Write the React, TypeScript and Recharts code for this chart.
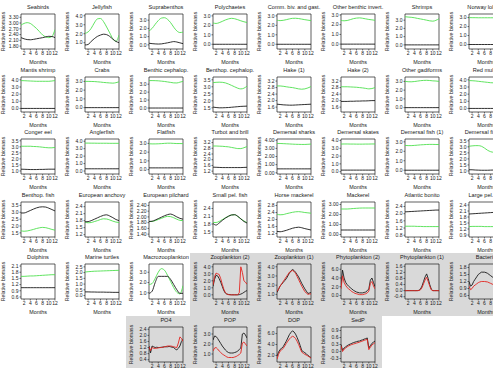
import React from 'react';
import { LineChart, Line, XAxis, YAxis, ReferenceArea } from 'recharts';

const months = [1, 2, 3, 4, 5, 6, 7, 8, 9, 10, 11, 12];
const halfMonths = [1, 1.5, 2, 2.5, 3, 3.5, 4, 4.5, 5, 5.5, 6, 6.5, 7, 7.5, 8, 8.5, 9, 9.5, 10, 10.5, 11, 11.5, 12];
const monthTicks = [2, 4, 6, 8, 10, 12];

const zeros = [0, 0, 0, 0, 0, 0, 0, 0, 0, 0, 0, 0];

// row 1
const seabirdsK = [2.24, 2.18, 2.14, 2.13, 2.15, 2.18, 2.21, 2.24, 2.28, 2.31, 2.3, 2.24];
const seabirdsG = [2.89, 2.98, 3.02, 2.98, 2.86, 2.72, 2.55, 2.38, 2.28, 2.24, 2.3, 2.66];
const jellyK = [0.75, 0.8, 1.15, 1.45, 1.7, 1.85, 1.95, 1.9, 1.7, 1.4, 1.15, 1.0];
const jellyG = [2.05, 2.2, 2.6, 3.2, 3.65, 3.7, 3.35, 2.75, 2.1, 1.45, 1.15, 1.85];
const supraK = [0.2, 0.15, 0.12, 0.1, 0.12, 0.18, 0.25, 0.33, 0.4, 0.35, 0.25, 0.15];
const supraG = [1.7, 2.0, 2.5, 2.95, 3.25, 3.3, 3.1, 2.7, 2.15, 1.7, 1.5, 1.55];
const polyG = [2.25, 2.2, 2.28, 2.42, 2.57, 2.68, 2.74, 2.7, 2.6, 2.48, 2.38, 2.3];
const combivG = [2.55, 2.5, 2.53, 2.6, 2.68, 2.74, 2.75, 2.72, 2.66, 2.6, 2.55, 2.5];
const othbenG = [2.45, 2.4, 2.43, 2.52, 2.62, 2.68, 2.7, 2.66, 2.6, 2.54, 2.5, 2.45];
const shrimpG = [3.42, 3.38, 3.35, 3.3, 3.22, 3.15, 3.08, 3.0, 2.92, 2.88, 2.98, 3.18];
const lobsterG = [3.0, 2.99, 2.99, 2.98, 2.98, 2.98, 2.98, 2.98, 2.98, 2.98, 2.99, 3.0];

// row 2
const mantisG = [3.9, 3.88, 3.86, 3.84, 3.82, 3.8, 3.8, 3.8, 3.8, 3.8, 3.84, 3.9];
const crabsG = [3.0, 3.0, 2.99, 2.98, 2.95, 2.92, 2.88, 2.85, 2.82, 2.8, 2.85, 2.95];
const bcephG = [3.45, 3.45, 3.44, 3.42, 3.38, 3.34, 3.28, 3.22, 3.16, 3.15, 3.25, 3.35];
const bpcephK = [1.55, 1.52, 1.5, 1.5, 1.51, 1.52, 1.54, 1.56, 1.58, 1.6, 1.61, 1.62];
const bpcephG = [3.3, 3.32, 3.33, 3.32, 3.28, 3.2, 3.1, 3.0, 2.9, 2.85, 2.9, 3.05];
const hake1K = [1.78, 1.76, 1.74, 1.73, 1.72, 1.72, 1.73, 1.74, 1.75, 1.76, 1.77, 1.78];
const hake1G = [2.9, 2.9, 2.88, 2.85, 2.82, 2.8, 2.76, 2.72, 2.7, 2.72, 2.78, 2.86];
const hake2K = [1.95, 1.95, 1.95, 1.96, 1.96, 1.97, 1.97, 1.98, 1.98, 1.99, 2.0, 2.0];
const hake2G = [2.85, 2.85, 2.85, 2.84, 2.83, 2.82, 2.8, 2.78, 2.75, 2.72, 2.74, 2.8];
const gadiG = [3.0, 2.96, 2.95, 2.98, 3.03, 3.08, 3.11, 3.12, 3.1, 3.06, 3.04, 3.0];
const mulletG = [3.9, 3.88, 3.85, 3.8, 3.75, 3.7, 3.65, 3.6, 3.58, 3.55, 3.55, 3.58];

// row 3
const congerK = [1.15, 1.14, 1.13, 1.12, 1.12, 1.12, 1.13, 1.13, 1.14, 1.15, 1.15, 1.15];
const congerG = [3.05, 3.05, 3.05, 3.05, 3.03, 3.02, 3.0, 2.97, 2.94, 2.92, 2.92, 2.95];
const anglerK = [0.3, 0.3, 0.3, 0.3, 0.3, 0.3, 0.3, 0.3, 0.3, 0.3, 0.3, 0.3];
const anglerG = [3.75, 3.75, 3.74, 3.74, 3.73, 3.73, 3.73, 3.73, 3.72, 3.72, 3.72, 3.72];
const flatK = [0.2, 0.2, 0.2, 0.2, 0.2, 0.2, 0.2, 0.2, 0.2, 0.2, 0.2, 0.2];
const flatG = [2.95, 2.94, 2.94, 2.95, 2.97, 3.0, 3.02, 3.02, 3.0, 2.98, 2.98, 2.97];
const turbotK = [1.48, 1.47, 1.46, 1.45, 1.45, 1.45, 1.45, 1.45, 1.45, 1.45, 1.46, 1.47];
const turbotG = [2.96, 2.96, 2.95, 2.94, 2.92, 2.9, 2.86, 2.82, 2.78, 2.78, 2.84, 2.92];
const dsharkK = [0.48, 0.48, 0.48, 0.48, 0.48, 0.48, 0.48, 0.48, 0.48, 0.48, 0.48, 0.48];
const dsharkG = [3.6, 3.6, 3.58, 3.56, 3.54, 3.52, 3.5, 3.49, 3.48, 3.48, 3.5, 3.53];
const dskateK = [0.2, 0.2, 0.2, 0.2, 0.2, 0.2, 0.2, 0.2, 0.2, 0.2, 0.2, 0.2];
const dskateG = [3.55, 3.56, 3.56, 3.55, 3.55, 3.54, 3.54, 3.54, 3.55, 3.55, 3.56, 3.56];
const dfish1G = [2.62, 2.6, 2.6, 2.62, 2.65, 2.68, 2.7, 2.72, 2.73, 2.73, 2.72, 2.72];
const dfish2K = [1.1, 1.1, 1.08, 1.07, 1.06, 1.06, 1.06, 1.07, 1.08, 1.09, 1.1, 1.1];
const dfish2G = [3.05, 3.08, 3.1, 3.1, 3.05, 2.9, 2.72, 2.6, 2.55, 2.55, 2.6, 2.65];

// row 4
const bpfishK = [2.95, 2.95, 3.03, 3.13, 3.23, 3.32, 3.38, 3.4, 3.38, 3.3, 3.2, 3.1];
const bpfishG = [1.65, 1.62, 1.64, 1.69, 1.75, 1.82, 1.87, 1.9, 1.88, 1.82, 1.75, 1.7];
const anchovyK = [1.75, 1.76, 1.8, 1.86, 1.92, 1.98, 2.03, 2.05, 2.0, 1.93, 1.85, 1.8];
const anchovyG = [1.74, 1.71, 1.72, 1.76, 1.8, 1.85, 1.88, 1.87, 1.83, 1.78, 1.74, 1.72];
const pilchardK = [1.84, 1.85, 1.89, 1.94, 1.99, 2.04, 2.08, 2.1, 2.06, 2.0, 1.95, 1.92];
const pilchardG = [1.84, 1.84, 1.87, 1.91, 1.95, 1.99, 2.02, 2.01, 1.97, 1.92, 1.88, 1.87];
const smallpelK = [1.82, 1.76, 1.84, 1.94, 2.03, 2.1, 2.15, 2.16, 2.1, 2.0, 1.9, 1.84];
const smallpelG = [1.86, 1.86, 1.9, 1.97, 2.04, 2.1, 2.15, 2.16, 2.09, 2.0, 1.92, 1.85];
const horseK = [1.32, 1.3, 1.33, 1.38, 1.44, 1.5, 1.54, 1.56, 1.53, 1.48, 1.44, 1.4];
const horseG = [2.3, 2.27, 2.28, 2.33, 2.37, 2.41, 2.44, 2.45, 2.43, 2.4, 2.38, 2.36];
const mackerelK = [0.45, 0.45, 0.45, 0.45, 0.45, 0.45, 0.45, 0.45, 0.45, 0.45, 0.45, 0.45];
const mackerelG = [2.55, 2.55, 2.55, 2.57, 2.6, 2.62, 2.64, 2.65, 2.65, 2.65, 2.65, 2.65];
const bonitoK = [2.1, 2.11, 2.12, 2.13, 2.14, 2.15, 2.16, 2.17, 2.18, 2.19, 2.2, 2.2];
const bonitoG = [1.3, 1.3, 1.3, 1.3, 1.29, 1.29, 1.28, 1.28, 1.28, 1.28, 1.28, 1.28];
const largepelK = [1.95, 1.96, 1.97, 1.98, 1.99, 2.0, 2.01, 2.02, 2.03, 2.04, 2.05, 2.06];
const largepelG = [1.32, 1.33, 1.33, 1.33, 1.33, 1.32, 1.32, 1.32, 1.32, 1.32, 1.32, 1.32];

// row 5
const dolphinK = [1.05, 1.05, 1.05, 1.05, 1.05, 1.05, 1.05, 1.05, 1.05, 1.05, 1.05, 1.05];
const dolphinG = [1.6, 1.6, 1.61, 1.62, 1.62, 1.63, 1.64, 1.65, 1.66, 1.67, 1.68, 1.68];
const turtleK = [0.32, 0.32, 0.31, 0.31, 0.3, 0.3, 0.3, 0.29, 0.29, 0.28, 0.28, 0.28];
const turtleG = [2.05, 2.08, 2.1, 2.12, 2.13, 2.14, 2.15, 2.16, 2.17, 2.18, 2.19, 2.2];
const macroK = [0.95, 1.15, 2.0, 2.6, 2.6, 2.6, 2.6, 2.3, 1.8, 1.3, 0.95, 0.95];
const macroG = [1.8, 1.9, 2.4, 3.0, 3.35, 3.2, 2.7, 2.1, 1.5, 1.05, 0.9, 1.7];
const zoop2K = [1.2, 2.2, 2.8, 2.7, 2.3, 1.8, 1.2, 0.6, 0.25, 0.1, 0.05, 0.02, 0, 0, 0, 0, 0, 0.02, 0.1, 0.2, 0.35, 0.5, 0.6];
const zoop2R = [1.4, 2.6, 3.1, 3.0, 2.9, 2.3, 1.5, 0.8, 0.3, 0.1, 0.02, 0, 0, 0, 0, 0, 0, 0.3, 4.0, 3.2, 2.0, 1.8, 1.5];
const zoop1K = [1.2, 1.55, 1.9, 2.1, 2.3, 2.5, 2.7, 3.0, 3.3, 3.55, 3.7, 3.6, 3.4, 3.15, 2.9, 2.55, 2.2, 1.9, 1.6, 1.35, 1.1, 1.15, 1.2];
const zoop1R = [1.3, 1.6, 1.9, 2.15, 2.4, 2.65, 2.9, 3.15, 3.4, 3.5, 3.6, 3.5, 3.3, 2.95, 2.6, 2.25, 1.9, 1.6, 1.3, 1.15, 1.0, 1.05, 1.05];
const phyto2K = [2.5, 5.8, 4.0, 3.0, 2.5, 2.1, 1.8, 1.5, 1.2, 1.0, 0.8, 0.7, 0.6, 0.6, 0.6, 0.7, 0.8, 1.1, 1.5, 3.5, 4.0, 3.0, 2.0];
const phyto2R = [1.5, 4.5, 3.0, 2.3, 1.8, 1.5, 1.2, 0.9, 0.7, 0.5, 0.4, 0.3, 0.2, 0.2, 0.2, 0.3, 0.4, 0.6, 1.0, 2.8, 3.2, 2.2, 1.5];
const phyto1K = [0, 0, 0, 0, 0, 0, 0, 0, 0, 0.02, 0.1, 0.3, 0.6, 0.9, 1.1, 0.8, 0.4, 0.1, 0, 0, 0, 0, 0];
const phyto1R = [0, 0, 0, 0, 0, 0, 0, 0, 0, 0.01, 0.05, 0.2, 0.45, 0.7, 0.88, 0.6, 0.3, 0.05, 0, 0, 0, 0, 0];
const bactK = [1.2, 1.0, 1.05, 1.2, 1.3, 1.4, 1.5, 1.55, 1.6, 1.6, 1.6, 1.58, 1.55, 1.5, 1.45, 1.4, 1.35, 1.3, 1.25, 1.22, 1.2, 1.18, 1.15];
const bactR = [1.0, 0.85, 0.9, 1.0, 1.05, 1.1, 1.15, 1.18, 1.2, 1.2, 1.2, 1.19, 1.18, 1.15, 1.12, 1.09, 1.05, 1.02, 1.0, 0.98, 0.96, 0.95, 0.95];

// row 6
const po4K = [1.3, 0.85, 1.3, 1.25, 1.2, 1.22, 1.2, 1.2, 1.22, 1.23, 1.25, 1.25, 1.25, 1.27, 1.25, 1.22, 1.2, 1.1, 1.05, 1.15, 1.3, 1.6, 1.75];
const po4R = [1.25, 1.0, 1.2, 1.15, 1.15, 1.15, 1.18, 1.2, 1.2, 1.22, 1.25, 1.27, 1.3, 1.3, 1.3, 1.28, 1.25, 1.22, 1.2, 1.5, 1.9, 1.8, 1.6];
const popK = [2.4, 2.8, 2.75, 2.55, 2.3, 2.05, 1.8, 1.6, 1.4, 1.25, 1.15, 1.1, 1.1, 1.1, 1.15, 1.2, 1.3, 1.45, 1.6, 3.0, 3.1, 2.9, 2.6];
const popR = [1.3, 1.6, 1.65, 1.5, 1.3, 1.15, 1.0, 0.9, 0.8, 0.7, 0.65, 0.65, 0.65, 0.65, 0.7, 0.75, 0.85, 0.95, 1.1, 2.1, 2.2, 2.0, 1.8];
const dopK = [1.8, 2.6, 3.1, 3.3, 3.6, 4.1, 4.6, 5.2, 5.8, 6.2, 6.5, 6.3, 5.9, 5.3, 4.6, 3.8, 2.9, 2.7, 2.5, 2.3, 2.0, 1.8, 1.6];
const dopR = [1.3, 2.2, 2.8, 3.0, 3.3, 3.7, 4.2, 4.6, 5.0, 5.3, 5.5, 5.4, 5.1, 4.6, 4.0, 3.3, 2.6, 2.4, 2.2, 2.05, 1.9, 1.7, 1.5];
const sedpK = [0.3, 0.05, 0.15, 0.2, 0.25, 0.29, 0.32, 0.35, 0.38, 0.4, 0.42, 0.44, 0.45, 0.48, 0.5, 0.53, 0.55, 0.58, 0.15, 0.25, 0.35, 0.4, 0.45];
const sedpR = [0.25, 0.0, 0.1, 0.15, 0.2, 0.24, 0.27, 0.3, 0.32, 0.34, 0.36, 0.38, 0.4, 0.43, 0.45, 0.48, 0.5, 0.52, 0.08, 0.18, 0.28, 0.33, 0.38];

// y tick sets
const t0to3 = [0, 1, 2, 3];
const t0to4 = [0, 1, 2, 3, 4];
const tSeabirds = [1.8, 2.1, 2.4, 2.7, 3.0, 3.3];
const t1to4 = [1, 2, 3, 4];
const t15to35 = [1.5, 2, 2.5, 3, 3.5];
const tHake = [1.6, 2.0, 2.4, 2.8, 3.2];
const t1to35 = [1, 1.5, 2, 2.5, 3, 3.5];
const tTurbot = [1.2, 1.6, 2.0, 2.4, 2.8, 3.2];
const tAnchovy = [1.2, 1.5, 1.8, 2.1, 2.4];
const tPilchard = [1.4, 1.6, 1.8, 2.0, 2.2, 2.4];
const tSmallpel = [1.5, 1.8, 2.1, 2.4];
const tHorse = [1.2, 1.6, 2.0, 2.4, 2.8];
const tBonito = [0.8, 1.2, 1.6, 2.0, 2.4];
const tLargepel = [0.9, 1.2, 1.5, 1.8, 2.1, 2.4];
const tDolphin = [0.6, 0.9, 1.2, 1.5, 1.8, 2.1];
const tTurtle = [0, 0.5, 1, 1.5, 2, 2.5];
const t1to3 = [1, 2, 3];
const tPhyto2 = [0, 2, 4, 6];
const tPhyto1 = [-0.4, 0, 0.4, 0.8, 1.2, 1.6];
const tBact = [0.6, 0.9, 1.2, 1.5, 1.8];
const tPo4 = [0.4, 0.8, 1.2, 1.6, 2.0, 2.4];
const tDop = [2, 4, 6];
const tSedp = [-0.3, 0, 0.3, 0.6, 0.9];

const GREEN = '#4fe04f';
const RED = '#e3241f';
const BLACK = '#1a1a1a';
const GRAY = '#d9d9d9';
const FONT = '"Liberation Sans", Arial, Helvetica, sans-serif';
const COL_W = 64;
const ROW_H = 62.6;

type Spec = {
  title: string;
  row: number;
  col: number;
  k: number[];
  c: number[];
  ticks: number[];
  domain: [number, number];
  dec?: number;
  gray?: boolean;
};

const panels: Spec[] = [
  { title: 'Seabirds', row: 0, col: 0, k: seabirdsK, c: seabirdsG, ticks: tSeabirds, domain: [1.65, 3.47], dec: 2 },
  { title: 'Jellyfish', row: 0, col: 1, k: jellyK, c: jellyG, ticks: t1to4, domain: [0.3, 4.2] },
  { title: 'Suprabenthos', row: 0, col: 2, k: supraK, c: supraG, ticks: t0to3, domain: [-0.5, 3.75] },
  { title: 'Polychaetes', row: 0, col: 3, k: zeros, c: polyG, ticks: t0to3, domain: [-0.5, 3.2] },
  { title: 'Comm. biv. and gast.', row: 0, col: 4, k: zeros, c: combivG, ticks: t0to3, domain: [-0.5, 3.2] },
  { title: 'Other benthic invert.', row: 0, col: 5, k: zeros, c: othbenG, ticks: t0to3, domain: [-0.5, 3.1] },
  { title: 'Shrimps', row: 0, col: 6, k: zeros, c: shrimpG, ticks: t0to3, domain: [-0.5, 3.75] },
  { title: 'Norway lobster', row: 0, col: 7, k: zeros, c: lobsterG, ticks: t0to3, domain: [-0.5, 3.4] },

  { title: 'Mantis shrimp', row: 1, col: 0, k: zeros, c: mantisG, ticks: t0to4, domain: [-0.5, 4.4] },
  { title: 'Crabs', row: 1, col: 1, k: zeros, c: crabsG, ticks: t0to3, domain: [-0.5, 3.5] },
  { title: 'Benthic cephalop.', row: 1, col: 2, k: zeros, c: bcephG, ticks: t0to3, domain: [-0.5, 3.9] },
  { title: 'Benthop. cephalop.', row: 1, col: 3, k: bpcephK, c: bpcephG, ticks: t15to35, domain: [1.2, 3.7] },
  { title: 'Hake (1)', row: 1, col: 4, k: hake1K, c: hake1G, ticks: tHake, domain: [1.3, 3.45] },
  { title: 'Hake (2)', row: 1, col: 5, k: hake2K, c: hake2G, ticks: tHake, domain: [1.3, 3.45] },
  { title: 'Other gadiforms', row: 1, col: 6, k: zeros, c: gadiG, ticks: t0to3, domain: [-0.5, 3.5] },
  { title: 'Red mullet', row: 1, col: 7, k: zeros, c: mulletG, ticks: t0to4, domain: [-0.5, 4.4] },

  { title: 'Conger eel', row: 2, col: 0, k: congerK, c: congerG, ticks: t1to35, domain: [0.75, 3.65] },
  { title: 'Anglerfish', row: 2, col: 1, k: anglerK, c: anglerG, ticks: t0to4, domain: [-0.4, 4.3] },
  { title: 'Flatfish', row: 2, col: 2, k: flatK, c: flatG, ticks: t0to3, domain: [-0.5, 3.5] },
  { title: 'Turbot and brill', row: 2, col: 3, k: turbotK, c: turbotG, ticks: tTurbot, domain: [1.0, 3.45] },
  { title: 'Demersal sharks', row: 2, col: 4, k: dsharkK, c: dsharkG, ticks: t0to4, domain: [-0.15, 4.15], dec: 2 },
  { title: 'Demersal skates', row: 2, col: 5, k: dskateK, c: dskateG, ticks: t0to4, domain: [-0.3, 4.2] },
  { title: 'Demersal fish (1)', row: 2, col: 6, k: zeros, c: dfish1G, ticks: t0to3, domain: [-0.4, 3.3] },
  { title: 'Demersal fish (2)', row: 2, col: 7, k: dfish2K, c: dfish2G, ticks: t1to35, domain: [0.75, 3.65] },

  { title: 'Benthop. fish', row: 3, col: 0, k: bpfishK, c: bpfishG, ticks: t15to35, domain: [1.2, 3.75] },
  { title: 'European anchovy', row: 3, col: 1, k: anchovyK, c: anchovyG, ticks: tAnchovy, domain: [1.1, 2.6] },
  { title: 'European pilchard', row: 3, col: 2, k: pilchardK, c: pilchardG, ticks: tPilchard, domain: [1.3, 2.52], dec: 2 },
  { title: 'Small pel. fish', row: 3, col: 3, k: smallpelK, c: smallpelG, ticks: tSmallpel, domain: [1.3, 2.65] },
  { title: 'Horse mackerel', row: 3, col: 4, k: horseK, c: horseG, ticks: tHorse, domain: [1.0, 3.0] },
  { title: 'Mackerel', row: 3, col: 5, k: mackerelK, c: mackerelG, ticks: t0to3, domain: [-0.25, 3.25], dec: 2 },
  { title: 'Atlantic bonito', row: 3, col: 6, k: bonitoK, c: bonitoG, ticks: tBonito, domain: [0.7, 2.65] },
  { title: 'Large pel. fish', row: 3, col: 7, k: largepelK, c: largepelG, ticks: tLargepel, domain: [0.8, 2.55] },

  { title: 'Dolphins', row: 4, col: 0, k: dolphinK, c: dolphinG, ticks: tDolphin, domain: [0.5, 2.2] },
  { title: 'Marine turtles', row: 4, col: 1, k: turtleK, c: turtleG, ticks: tTurtle, domain: [-0.3, 2.75] },
  { title: 'Macrozooplankton', row: 4, col: 2, k: macroK, c: macroG, ticks: t1to3, domain: [0.4, 3.8] },
  { title: 'Zooplankton (2)', row: 4, col: 3, k: zoop2K, c: zoop2R, ticks: t0to4, domain: [-0.6, 4.4], gray: true },
  { title: 'Zooplankton (1)', row: 4, col: 4, k: zoop1K, c: zoop1R, ticks: t1to4, domain: [0.5, 4.3], gray: true },
  { title: 'Phytoplankton (2)', row: 4, col: 5, k: phyto2K, c: phyto2R, ticks: tPhyto2, domain: [-0.8, 7.2], gray: true },
  { title: 'Phytoplankton (1)', row: 4, col: 6, k: phyto1K, c: phyto1R, ticks: tPhyto1, domain: [-0.55, 1.75], gray: true },
  { title: 'Bacteria', row: 4, col: 7, k: bactK, c: bactR, ticks: tBact, domain: [0.45, 1.95], gray: true },

  { title: 'PO4', row: 5, col: 2, k: po4K, c: po4R, ticks: tPo4, domain: [0.25, 2.55], gray: true },
  { title: 'POP', row: 5, col: 3, k: popK, c: popR, ticks: t1to3, domain: [0.2, 3.7], gray: true },
  { title: 'DOP', row: 5, col: 4, k: dopK, c: dopR, ticks: tDop, domain: [0.8, 7.2], gray: true },
  { title: 'SedP', row: 5, col: 5, k: sedpK, c: sedpR, ticks: tSedp, domain: [-0.45, 1.05], gray: true },
];

const cellLeft = (col: number) => col * COL_W - 2;
const cellTop = (row: number) => row * ROW_H + 3;

const textBase: React.CSSProperties = {
  position: 'absolute',
  fontFamily: FONT,
  color: '#1a1a1a',
  whiteSpace: 'nowrap',
  textAlign: 'center',
};

function Panel({ p }: { p: Spec }) {
  const xs = p.gray ? halfMonths : months;
  const data = xs.map((m, i) => ({ m, k: p.k[i], c: p.c[i] }));
  const dec = p.dec ?? 1;
  const tick = { fontSize: 5, fill: '#1a1a1a', fontFamily: FONT };
  const curve = p.gray ? 'linear' : 'monotone';
  const color = p.gray ? RED : GREEN;

  return (
    <div style={{ position: 'absolute', left: cellLeft(p.col), top: cellTop(p.row), width: COL_W, height: ROW_H }}>
      <div style={{ ...textBase, left: -20, width: 120, top: 0, height: 8, lineHeight: '8px', fontSize: 5.6 }}>
        {p.title}
      </div>
      <LineChart width={COL_W} height={62} data={data} margin={{ top: 11, right: 7, bottom: 0, left: 0 }}>
        <XAxis
          dataKey="m"
          type="number"
          domain={[1, 12]}
          ticks={monthTicks}
          interval={0}
          allowDataOverflow
          axisLine={false}
          tickSize={1.5}
          tickMargin={1}
          height={16}
          tick={tick}
          tickLine={{ stroke: BLACK, strokeWidth: 0.6 }}
        />
        <YAxis
          type="number"
          domain={p.domain}
          ticks={p.ticks}
          interval={0}
          allowDataOverflow
          axisLine={false}
          width={23}
          tickSize={1.5}
          tickMargin={1}
          tick={tick}
          tickLine={{ stroke: BLACK, strokeWidth: 0.6 }}
          tickFormatter={(v: number) => v.toFixed(dec)}
        />
        <ReferenceArea
          x1={1}
          x2={12}
          y1={p.domain[0]}
          y2={p.domain[1]}
          fill="none"
          fillOpacity={0}
          stroke={BLACK}
          strokeWidth={0.7}
          ifOverflow="visible"
        />
        {p.gray ? (
          <Line dataKey="k" type={curve} stroke={BLACK} strokeWidth={0.9} dot={false} isAnimationActive={false} />
        ) : null}
        <Line dataKey="c" type={curve} stroke={color} strokeWidth={0.9} dot={false} isAnimationActive={false} />
        {!p.gray ? (
          <Line dataKey="k" type={curve} stroke={BLACK} strokeWidth={0.9} dot={false} isAnimationActive={false} />
        ) : null}
      </LineChart>
      <div style={{ ...textBase, left: 10, width: 60, top: 55, height: 8, lineHeight: '8px', fontSize: 5.4 }}>Months</div>
      <div
        style={{
          ...textBase,
          left: -25,
          width: 60,
          top: 25,
          height: 7,
          lineHeight: '7px',
          fontSize: 5.2,
          transform: 'rotate(-90deg)',
        }}
      >
        Relative biomass
      </div>
    </div>
  );
}

export default function App() {
  return (
    <div
      style={{
        position: 'fixed',
        left: 0,
        top: 0,
        width: 493,
        height: 368,
        overflow: 'hidden',
        background: '#ffffff',
      }}
    >
      {panels
        .filter((p) => p.gray)
        .map((p) => (
          <div
            key={'bg-' + p.title}
            style={{
              position: 'absolute',
              left: cellLeft(p.col),
              top: cellTop(p.row),
              width: COL_W,
              height: p.row === 5 ? 80 : ROW_H + 0.5,
              background: GRAY,
            }}
          />
        ))}
      {panels.map((p) => (
        <Panel key={p.title} p={p} />
      ))}
    </div>
  );
}
